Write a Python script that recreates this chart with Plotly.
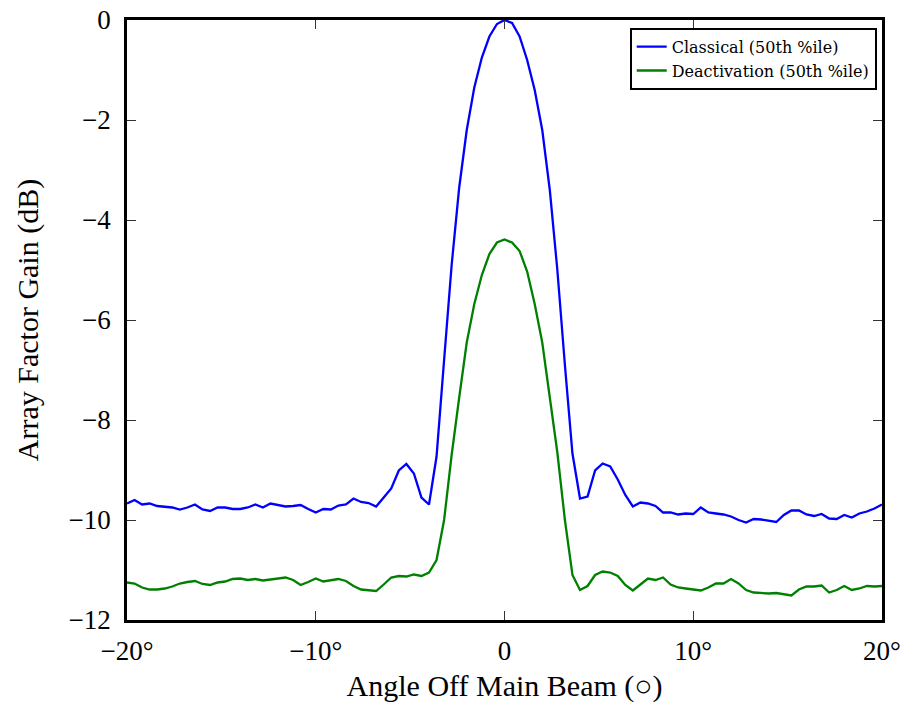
import plotly.graph_objects as go

# angle grid: -20 .. 20 deg in 0.4 deg steps (101 samples)
angles = [round(-20 + 0.4 * i, 1) for i in range(101)]

classical = [
    -9.67, -9.60, -9.69, -9.67, -9.72, -9.73, -9.75, -9.79, -9.75, -9.69,
    -9.79, -9.82, -9.75, -9.75, -9.78, -9.78, -9.75, -9.69, -9.75, -9.67,
    -9.70, -9.73, -9.72, -9.70, -9.78, -9.85, -9.78, -9.79, -9.71, -9.69,
    -9.57, -9.64, -9.66, -9.73,
    -9.55, -9.37, -9.01, -8.88, -9.07, -9.55, -9.69, -8.73, -6.80, -4.90,
    -3.35, -2.20, -1.35, -0.75, -0.33, -0.08, 0.00, -0.06, -0.33, -0.80,
    -1.40, -2.20, -3.40, -5.00, -6.90, -8.67, -9.57, -9.53, -9.01, -8.87,
    -8.93, -9.19, -9.50, -9.73,
    -9.65, -9.67, -9.72, -9.85, -9.85, -9.89, -9.87, -9.88, -9.75, -9.85,
    -9.87, -9.89, -9.93, -10.00, -10.05, -9.98, -9.99, -10.01, -10.04, -9.90,
    -9.81, -9.81, -9.89, -9.92, -9.88, -9.97, -9.98, -9.90, -9.95, -9.87,
    -9.83, -9.77, -9.69,
]

deactivation = [
    -11.25, -11.27, -11.35, -11.39, -11.39, -11.37, -11.33, -11.27, -11.24, -11.22,
    -11.28, -11.30, -11.25, -11.23, -11.18, -11.17, -11.20, -11.18, -11.21, -11.19,
    -11.16, -11.15, -11.20, -11.30, -11.24, -11.17, -11.23, -11.20, -11.18, -11.22,
    -11.32, -11.39, -11.40, -11.42,
    -11.29, -11.15, -11.12, -11.13, -11.09, -11.12, -11.05, -10.80, -10.00, -8.70,
    -7.55, -6.45, -5.68, -5.10, -4.68, -4.45, -4.39, -4.45, -4.62, -5.03,
    -5.68, -6.45, -7.55, -8.65, -10.00, -11.10, -11.40, -11.32, -11.10, -11.03,
    -11.05, -11.12, -11.30, -11.41,
    -11.29, -11.17, -11.20, -11.15, -11.29, -11.35, -11.37, -11.39, -11.41, -11.35,
    -11.27, -11.27, -11.18, -11.27, -11.40, -11.45, -11.46, -11.47, -11.46, -11.49,
    -11.51, -11.39, -11.33, -11.33, -11.31, -11.45, -11.40, -11.32, -11.40, -11.37,
    -11.32, -11.33, -11.32,
]

series_names = ["Classical (50th %ile)", "Deactivation (50th %ile)"]

x_tickvals = [-20, -10, 0, 10, 20]
x_ticktext = ["\u221220\u00b0", "\u221210\u00b0", "0", "10\u00b0", "20\u00b0"]
y_tickvals = [0, -2, -4, -6, -8, -10, -12]
y_ticktext = ["0", "\u22122", "\u22124", "\u22126", "\u22128", "\u221210", "\u221212"]

FONT = "Liberation Serif"
LEGEND_FONT = "DejaVu Serif"

fig = go.Figure()
fig.add_trace(go.Scatter(x=angles, y=classical, mode="lines", name=series_names[0],
                         line=dict(color="#0000ff", width=2.3)))
fig.add_trace(go.Scatter(x=angles, y=deactivation, mode="lines", name=series_names[1],
                         line=dict(color="#008000", width=2.3)))

axis_common = dict(
    showline=True, linecolor="black", linewidth=2.5, mirror="ticks",
    ticks="inside", ticklen=9, tickwidth=1, tickcolor="#333333",
    showgrid=False, zeroline=False, automargin=False,
    tickfont=dict(family=FONT, size=27, color="black"),
)

fig.update_xaxes(range=[-20, 20], tickvals=x_tickvals, ticktext=x_ticktext,
                 title=dict(text="Angle Off Main Beam (\u25cb)",
                            font=dict(family=FONT, size=30, color="black"), standoff=10),
                 ticklabelstandoff=5, **axis_common)
fig.update_yaxes(range=[-12, 0], tickvals=y_tickvals, ticktext=y_ticktext,
                 title=dict(text="Array Factor Gain (dB)",
                            font=dict(family=FONT, size=30, color="black"), standoff=22),
                 ticklabelstandoff=8, **axis_common)

fig.update_layout(
    width=907, height=709,
    margin=dict(l=127, r=25, t=20, b=89),
    paper_bgcolor="white", plot_bgcolor="white",
    font=dict(family=FONT, color="black"),
    showlegend=True,
    legend=dict(x=0.993, y=0.987, xanchor="right", yanchor="top",
                bgcolor="white", bordercolor="black", borderwidth=2,
                font=dict(family=LEGEND_FONT, size=16, color="black"),
                tracegroupgap=0, itemwidth=30),
)

fig.write_html("out.html")
